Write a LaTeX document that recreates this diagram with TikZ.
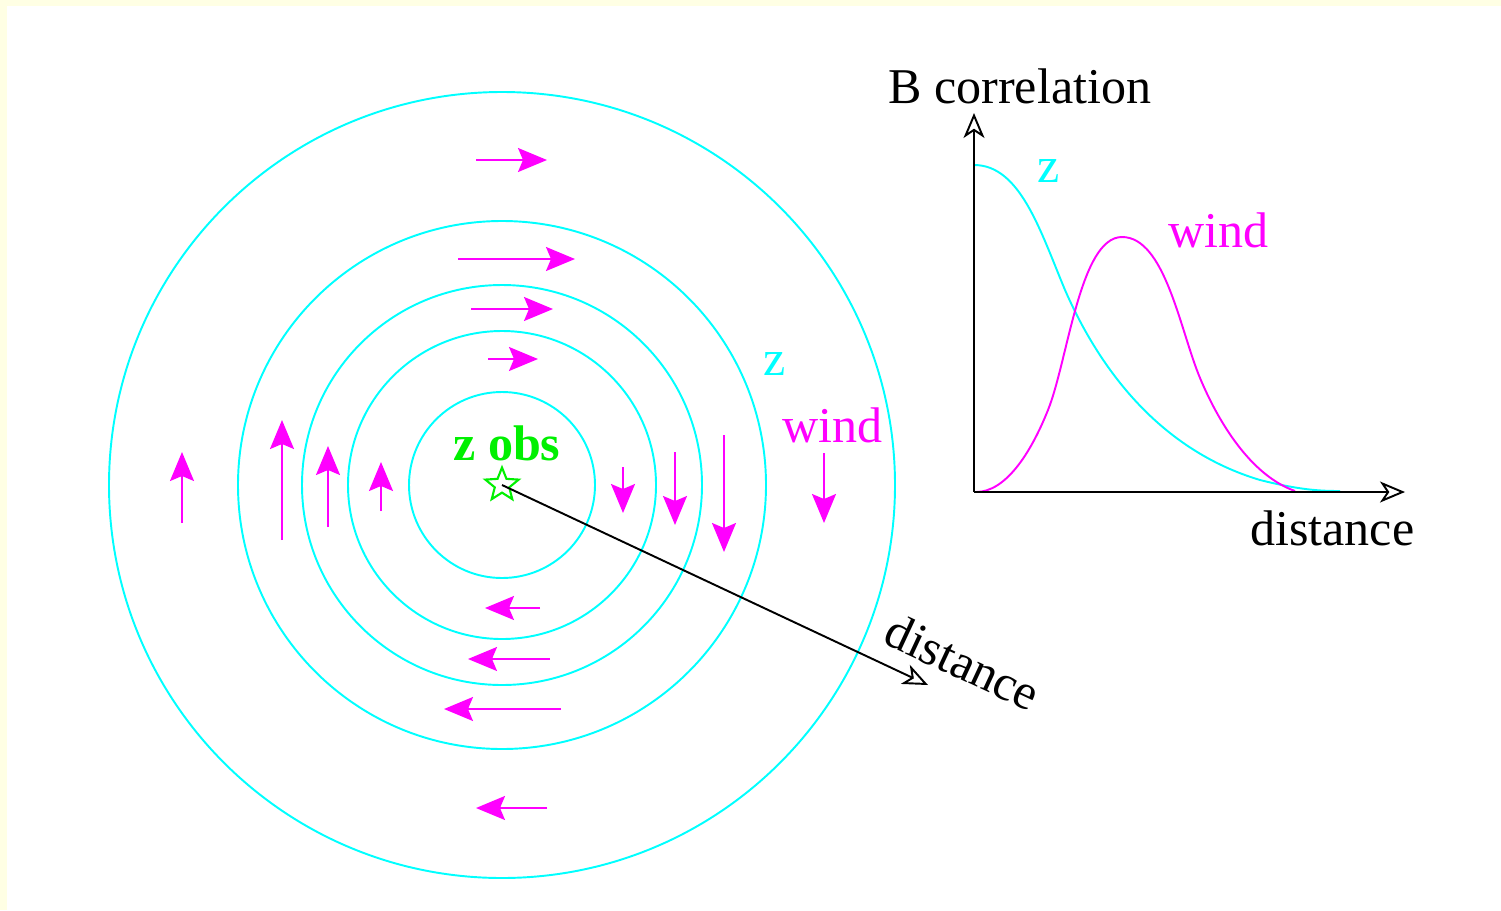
\documentclass[tikz,border=0pt]{standalone}
\usepackage{fontspec}
\setmainfont{Liberation Serif}
\usetikzlibrary{arrows.meta,shapes.geometric}
\definecolor{cream}{RGB}{255,255,228}
\definecolor{zcyan}{RGB}{0,255,255}
\definecolor{wmag}{RGB}{255,0,255}
\definecolor{obsgreen}{RGB}{0,240,0}
\begin{document}
\begin{tikzpicture}[x=0.02cm,y=-0.02cm,
  lbl/.style={font=\fontsize{28.5}{34}\selectfont, inner sep=0pt, anchor=base west},
  ring/.style={zcyan, line width=1.1pt},
  wa/.style={wmag, line width=1.1pt, -{Stealth[length=0.58cm,width=0.48cm,inset=0.1cm]}},
  axisarrow/.style={black, line width=1.1pt, -{Stealth[open,length=0.5cm,width=0.42cm,inset=0.14cm]}},
  curve/.style={line width=1.1pt}]
\useasboundingbox (0,0) rectangle (1501,910);
\fill[white] (0,0) rectangle (1501,910);
\fill[cream] (0,0) rectangle (1501,6);
\fill[cream] (0,0) rectangle (7,910);

% rings
\coordinate (c) at (502,485);
\foreach \r in {93,154,200,264,393} \draw[ring] (c) circle[radius=\r];

% wind arrows: top (rightward)
\draw[wa] (476,160) -- (547,160);
\draw[wa] (458,259) -- (575,259);
\draw[wa] (471,309) -- (553,309);
\draw[wa] (488,359) -- (538,359);
% bottom (leftward)
\draw[wa] (540,608) -- (485,608);
\draw[wa] (550,659) -- (468,659);
\draw[wa] (561,709) -- (444,709);
\draw[wa] (547,808) -- (476,808);
% left (upward)
\draw[wa] (182,523) -- (182,452);
\draw[wa] (282,540) -- (282,420);
\draw[wa] (328,527) -- (328,446);
\draw[wa] (381,511) -- (381,462);
% right (downward)
\draw[wa] (623,467) -- (623,513);
\draw[wa] (675,452) -- (675,525);
\draw[wa] (724,435) -- (724,552);
\draw[wa] (824,453) -- (824,523);

% observation
\node[star, star points=5, star point ratio=2.3, draw=obsgreen, line width=1.2pt,
      minimum size=0.7cm, inner sep=0pt] (obs) at (502,485) {};
\node[lbl, text=obsgreen, font=\fontsize{28.5}{34}\selectfont\bfseries] (obslbl) at (453,460) {z obs};
\node[lbl, text=zcyan] (zlbl) at (763,375) {z};
\node[lbl, text=wmag] (wlbl) at (782,442) {wind};

% distance arrow
\coordinate (dend) at (928,685);
\draw[axisarrow] (obs.center) -- (dend);
\node[font=\fontsize{28.5}{34}\selectfont, inner sep=0pt, rotate=-25] (dlbl) at (963,662) {distance};

% graph
\coordinate (O) at (974,492);
\coordinate (ytip) at (974,113);
\coordinate (xtip) at (1405,492);
\draw[zcyan, curve] (974,165) .. controls (1020,165) and (1040,230) .. (1065,290)
  .. controls (1100,370) and (1160,450) .. (1260,480)
  .. controls (1300,490) and (1320,491) .. (1340,491);
\draw[wmag, curve] (976,492) .. controls (1005,492) and (1030,455) .. (1048,410)
  .. controls (1068,360) and (1080,237) .. (1122,237)
  .. controls (1165,237) and (1180,330) .. (1200,378)
  .. controls (1218,421) and (1250,475) .. (1295,491);
\draw[axisarrow] (O) -- (ytip);
\draw[axisarrow] (O) -- (xtip);
\node[lbl] (ylbl) at (888,103) {B correlation};
\node[lbl] (xlbl) at (1250,545) {distance};
\node[lbl, text=zcyan] (gz) at (1037,182) {z};
\node[lbl, text=wmag] (gw) at (1168,247) {wind};
\end{tikzpicture}
\end{document}
